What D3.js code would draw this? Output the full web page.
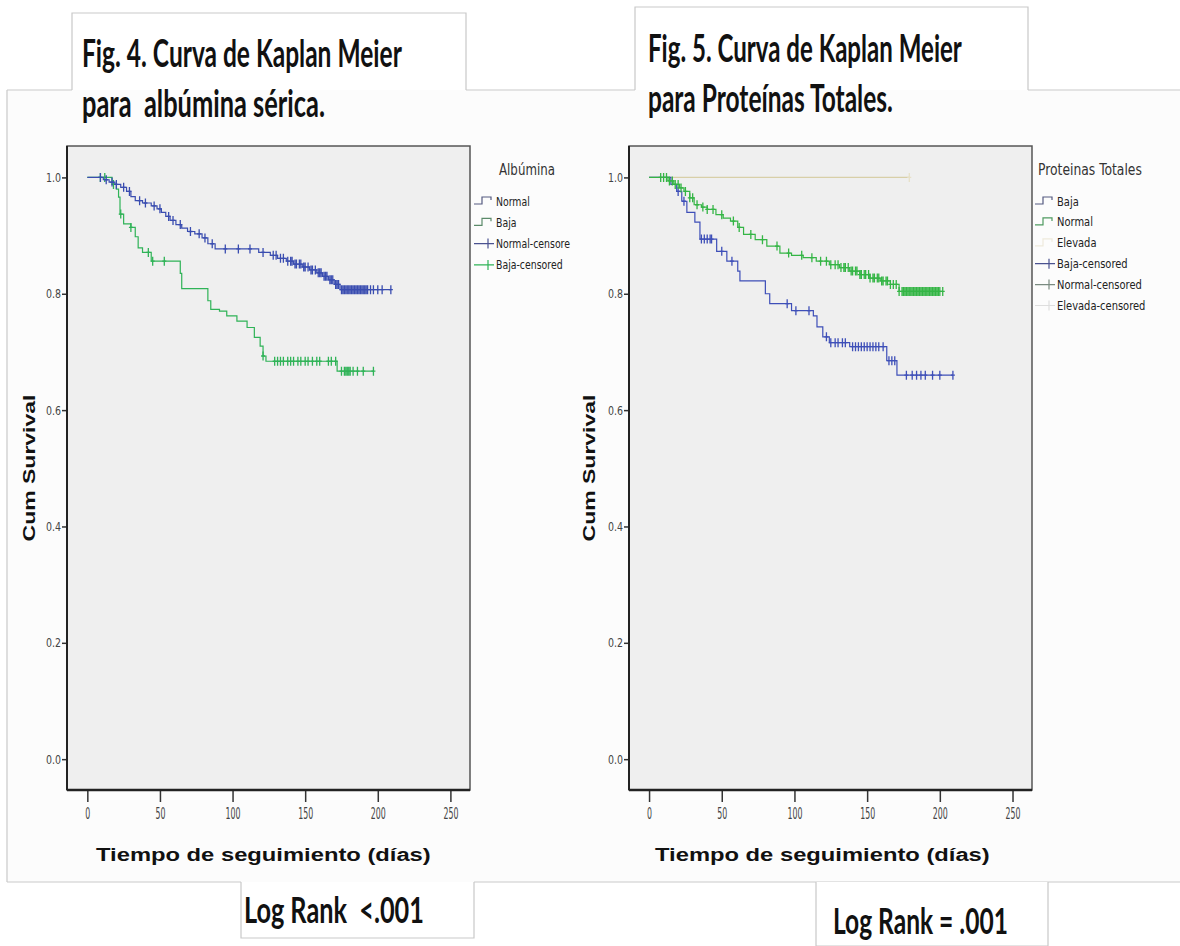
<!DOCTYPE html>
<html><head><meta charset="utf-8">
<script src="https://cdn.jsdelivr.net/npm/d3@7"></script>
<style>
html,body{margin:0;padding:0;background:#fff;}
svg{display:block;}
text{white-space:pre;}
</style></head><body>
<svg id="chart" width="1180" height="946"></svg>
<script>
// ---------------- DATA ----------------
const xTickValues = [0, 50, 100, 150, 200, 250];
const yTickValues = [0.0, 0.2, 0.4, 0.6, 0.8, 1.0];

// Fig. 4 - Albúmina
const albNormalTimes = [0,11,15,19,23,27,30,33,38,44,48,51,54,57,61,65,69,74,79,83,88,118,126,131,137,142,148,153,158,162,166,170,174];
const albNormalSurv  = [1,0.996,0.992,0.988,0.983,0.976,0.967,0.96,0.956,0.951,0.946,0.94,0.933,0.926,0.919,0.913,0.907,0.903,0.896,0.886,0.877,0.871,0.866,0.861,0.856,0.851,0.846,0.841,0.836,0.83,0.824,0.816,0.807];
const albNormalEnd = 209;
const albNormalCensored = [9,13,17,20,25,29,36,40,46,50,56,59,64,71,77,81,86,95,104,112,121,128,130,133,135,138,140,141,143,144,146,147,149,150,152,154,155,157,159,160,161,163,164,165,167,168,169,171,172,173,175,176,177,178,179,180,181,182,183,184,185,186,187,188,189,190,191,192,193,195,197,200,203,209];

const albBajaTimes = [0,17,20,21.5,22.5,25,30,33,35,38,44,64,65,83,85,91,96,103,110,115,119,121,123,172];
const albBajaSurv  = [1,0.988,0.98,0.966,0.937,0.92,0.914,0.898,0.879,0.871,0.856,0.835,0.809,0.788,0.773,0.77,0.762,0.753,0.742,0.725,0.71,0.693,0.684,0.667];
const albBajaEnd = 197;
const albBajaCensored = [9,12,18,23,30,42,45,53,121,129,131,133,135,138,140,142,145,147,150,152,155,158,160,166,168,171,175,177,178,179,180,181,183,186,190,197];

// Fig. 5 - Proteínas Totales
const protBajaTimes = [0,15,19,22.5,26,31.5,35,46.5,53.5,61,62.5,80,83,98,113,115.5,119.5,124,138,163.5,170.5];
const protBajaSurv  = [1,0.988,0.976,0.959,0.94,0.923,0.894,0.873,0.856,0.839,0.822,0.8,0.783,0.771,0.762,0.743,0.726,0.716,0.709,0.685,0.66];
const protBajaEnd = 209;
const protBajaCensored = [20,24,36,38,40,42,43,50,57,95,101,110,122,125,128,130,133,135,140,142,144,146,148,150,152,154,156,158,161,165,167,169,177,181,184,187,190,195,200,209];

const protNormalTimes = [0,13,17,21,24,28,31,36,40,46,51,56,61,65,73,81,90,98,106,115,124,131,138,145,152,159,166,172];
const protNormalSurv  = [1,0.994,0.988,0.982,0.976,0.965,0.953,0.949,0.945,0.936,0.93,0.925,0.914,0.902,0.893,0.882,0.87,0.866,0.862,0.856,0.85,0.845,0.839,0.833,0.827,0.822,0.816,0.804];
const protNormalEnd = 202;
const protNormalCensored = [8,10,12,14,16,18,20,22,25,28,30,33,37,40,44,50,58,62,70,78,88,96,105,112,118,122,125,128,130,132,134,135,137,139,140,142,143,145,146,148,149,151,152,154,155,157,158,160,161,163,164,166,168,170,172,174,175,176,177,178,179,180,181,182,183,184,185,186,187,188,189,190,191,192,193,194,195,196,197,198,199,200,202];

const protElevTimes = [0];
const protElevSurv  = [1.0];
const protElevEnd = 179;
const protElevCensored = [179];

// ---------------- DRAW ----------------
const svg = d3.select("#chart");
const NARROW = '"Liberation Sans Narrow","Arial Narrow","DejaVu Sans Condensed",sans-serif';
const SANS = '"Liberation Sans",Arial,"DejaVu Sans",sans-serif';
const TITLEF = 'Lato,"Open Sans",sans-serif';
const LINE = "#c9c9c9";

// text helper; if width given, glyphs are horizontally scaled to fit that width
function txt(str, x, y, o) {
  const t = svg.append("text").text(str)
    .attr("font-family", o.family || NARROW)
    .attr("font-size", o.size || 13)
    .attr("font-weight", o.weight || "normal")
    .attr("fill", o.fill || "#111")
    .attr("text-anchor", o.anchor || "start");
  let sx = 1;
  if (o.width) { const w = t.node().getComputedTextLength(); if (w > 0) sx = o.width / w; }
  else if (o.squeeze) sx = o.squeeze;
  const rot = o.rotate ? ` rotate(${o.rotate})` : "";
  t.attr("transform", `translate(${x},${y})${rot} scale(${sx},1)`);
  return t;
}
function hline(x1, x2, y, c) { svg.append("line").attr("x1", x1).attr("x2", x2).attr("y1", y).attr("y2", y).attr("stroke", c || LINE).attr("stroke-width", 1.2); }
function vline(x, y1, y2, c) { svg.append("line").attr("x1", x).attr("x2", x).attr("y1", y1).attr("y2", y2).attr("stroke", c || LINE).attr("stroke-width", 1.2); }

// panel backgrounds & framing lines
svg.append("rect").attr("x", 7).attr("y", 90).attr("width", 1173).attr("height", 792).attr("fill", "#fcfcfc");
hline(7, 72, 90); hline(466, 635, 90); hline(1028, 1180, 90);
vline(7, 90, 882);
hline(7, 241, 882); hline(474, 1180, 882);
// title tabs
svg.append("path").attr("d", "M72,90 V13 H466 V90").attr("fill", "#fff").attr("stroke", LINE).attr("stroke-width", 1.2);
svg.append("path").attr("d", "M635,90 V7 H1028 V90").attr("fill", "#fff").attr("stroke", LINE).attr("stroke-width", 1.2);
// log rank boxes
svg.append("path").attr("d", "M241,882 V938 H474 V882").attr("fill", "#fff").attr("stroke", LINE).attr("stroke-width", 1.2);
svg.append("path").attr("d", "M816,882 V946 H1048 V882").attr("fill", "#fff").attr("stroke", LINE).attr("stroke-width", 1.2);

// titles
txt("Fig. 4. Curva de Kaplan Meier", 82, 67, {family: TITLEF, size: 38, weight: "bold", width: 320});
txt("para  albúmina sérica.", 82, 117, {family: TITLEF, size: 38, weight: "bold", width: 243});
txt("Fig. 5. Curva de Kaplan Meier", 648, 62, {family: TITLEF, size: 38, weight: "bold", width: 314});
txt("para Proteínas Totales.", 648, 112, {family: TITLEF, size: 38, weight: "bold", width: 245});
txt("Log Rank  <.001", 244, 923, {family: TITLEF, size: 37, weight: "bold", width: 180});
txt("Log Rank = .001", 833, 934, {family: TITLEF, size: 37, weight: "bold", width: 175});

const yScaleDomain = [-0.053, 1.054];
const FRAME_TOP = 146, FRAME_BOTTOM = 790;

function stepPoints(times, surv, end) {
  const pts = times.map((t, i) => [t, surv[i]]);
  pts.push([end, surv[surv.length - 1]]);
  return pts;
}
function survAt(times, surv, t) {
  let s = surv[0];
  for (let i = 0; i < times.length; i++) if (times[i] <= t) s = surv[i];
  return s;
}

function drawPanel(cfg) {
  const x = d3.scaleLinear().domain(cfg.xDomain).range([cfg.x0, cfg.x1]);
  const y = d3.scaleLinear().domain(yScaleDomain).range([FRAME_BOTTOM, FRAME_TOP]);
  const g = svg.append("g");
  g.append("rect").attr("x", cfg.x0).attr("y", FRAME_TOP).attr("width", cfg.x1 - cfg.x0).attr("height", FRAME_BOTTOM - FRAME_TOP)
    .attr("fill", "#efefef").attr("stroke", "#555").attr("stroke-width", 1.5);

  // axes
  const ya = d3.axisLeft(y).tickValues(yTickValues).tickFormat(d3.format(".1f")).tickSize(5).tickPadding(1);
  const gy = g.append("g").attr("transform", `translate(${cfg.x0},0)`).call(ya);
  gy.select(".domain").remove();
  gy.selectAll("line").attr("stroke", "#333").attr("stroke-width", 1.5);
  gy.selectAll("text").attr("font-family", NARROW).attr("font-size", 13).attr("fill", "#444")
    .attr("textLength", 15).attr("lengthAdjust", "spacingAndGlyphs");

  const xa = d3.axisBottom(x).tickValues(xTickValues).tickFormat(d3.format("d")).tickSize(11).tickPadding(6);
  const gx = g.append("g").attr("transform", `translate(0,${FRAME_BOTTOM + 1})`).call(xa);
  gx.select(".domain").remove();
  gx.selectAll("line").attr("stroke", "#333").attr("stroke-width", 1.5);
  gx.selectAll("text").attr("font-family", NARROW).attr("font-size", 15).attr("fill", "#444")
    .attr("textLength", d => String(d).length * 5).attr("lengthAdjust", "spacingAndGlyphs");

  // axis lines
  g.append("line").attr("x1", cfg.x0).attr("x2", cfg.x0).attr("y1", FRAME_TOP).attr("y2", FRAME_BOTTOM).attr("stroke", "#222").attr("stroke-width", 2);
  g.append("line").attr("x1", cfg.x0).attr("x2", cfg.x1).attr("y1", FRAME_BOTTOM).attr("y2", FRAME_BOTTOM).attr("stroke", "#222").attr("stroke-width", 2.5);

  // series
  const line = d3.line().x(d => x(d[0])).y(d => y(d[1])).curve(d3.curveStepAfter);
  cfg.series.forEach(s => {
    g.append("path").datum(stepPoints(s.times, s.surv, s.end))
      .attr("d", line).attr("fill", "none").attr("stroke", s.color).attr("stroke-width", s.width || 1.2);
    let d = "";
    s.censored.forEach(c => {
      const cx = x(c), cy = y(survAt(s.times, s.surv, c));
      d += `M${cx},${cy - 4.5}V${cy + 4.5}M${cx - 2},${cy}H${cx + 2}`;
    });
    g.append("path").attr("d", d).attr("fill", "none").attr("stroke", s.markColor || s.color).attr("stroke-width", 1.3);
  });

  // axis titles
  txt("Cum Survival", cfg.yTitleX, 468, {family: SANS, size: 16, weight: "bold", anchor: "middle", rotate: -90, width: 147});
  txt("Tiempo de seguimiento (días)", cfg.xTitleX, 861, {family: SANS, size: 19, weight: "bold", width: 335});

  // legend
  txt(cfg.legendTitle, cfg.legTitleX, 175, {size: 15.5, fill: "#333", width: cfg.legTitleW});
  cfg.legend.forEach((it, i) => {
    const cy = cfg.legY0 + i * cfg.legStep;
    const sx = cfg.legSymX;
    if (it.type === "step") {
      g.append("path").attr("d", `M${sx},${cy + 3}H${sx + 8}V${cy - 4}H${sx + 17}V${cy - 1}`)
        .attr("fill", "none").attr("stroke", it.color).attr("stroke-width", 1.2);
    } else {
      g.append("path").attr("d", `M${sx},${cy}H${sx + 20}M${sx + 14},${cy - 5}V${cy + 5}`)
        .attr("fill", "none").attr("stroke", it.color).attr("stroke-width", 1.2);
    }
    txt(it.label, sx + 22, cy + 4.5, {size: 13, fill: it.textColor || "#222", squeeze: cfg.legSqueeze});
  });
}

const BLUE_L = "#3a4db0", GREEN_L = "#2fb357";
const BLUE_R = "#3e4fb8", GREEN_R = "#34b545", TAN = "#d8cfa8";

drawPanel({
  x0: 67, x1: 470, xDomain: [-14, 263.5],
  yTitleX: 35, xTitleX: 96,
  legendTitle: "Albúmina", legTitleX: 499, legTitleW: 56,
  legSymX: 474, legY0: 201, legStep: 21.3, legSqueeze: 0.8,
  legend: [
    {label: "Normal", type: "step", color: "#555a80"},
    {label: "Baja", type: "step", color: "#5b8a6a"},
    {label: "Normal-censore", type: "cens", color: "#4a5290"},
    {label: "Baja-censored", type: "cens", color: GREEN_L}
  ],
  series: [
    {times: albBajaTimes, surv: albBajaSurv, end: albBajaEnd, censored: albBajaCensored, color: GREEN_L},
    {times: albNormalTimes, surv: albNormalSurv, end: albNormalEnd, censored: albNormalCensored, color: BLUE_L}
  ]
});

drawPanel({
  x0: 629, x1: 1032, xDomain: [-13.8, 263.4],
  yTitleX: 595, xTitleX: 655,
  legendTitle: "Proteinas Totales", legTitleX: 1038, legTitleW: 104,
  legSymX: 1035, legY0: 201, legStep: 20.9, legSqueeze: 0.85,
  legend: [
    {label: "Baja", type: "step", color: "#555a80"},
    {label: "Normal", type: "step", color: "#4f9a60"},
    {label: "Elevada", type: "step", color: "#eeeadc"},
    {label: "Baja-censored", type: "cens", color: "#4a5290"},
    {label: "Normal-censored", type: "cens", color: "#7a8a80"},
    {label: "Elevada-censored", type: "cens", color: "#dedede"}
  ],
  series: [
    {times: protElevTimes, surv: protElevSurv, end: protElevEnd, censored: protElevCensored, color: TAN, markColor: "#e6e0c8"},
    {times: protBajaTimes, surv: protBajaSurv, end: protBajaEnd, censored: protBajaCensored, color: BLUE_R},
    {times: protNormalTimes, surv: protNormalSurv, end: protNormalEnd, censored: protNormalCensored, color: GREEN_R}
  ]
});
</script>
</body></html>
